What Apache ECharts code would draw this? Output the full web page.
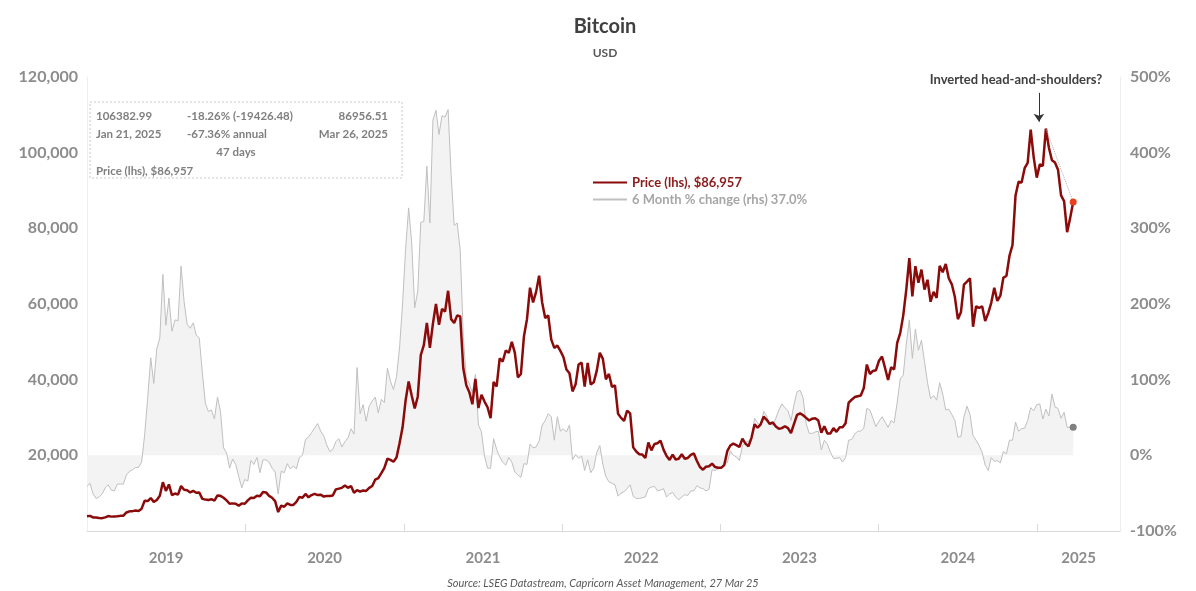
<!DOCTYPE html>
<html><head><meta charset="utf-8">
<script src="https://cdn.jsdelivr.net/npm/echarts@6/dist/echarts.min.js"></script>
<style>html,body{margin:0;padding:0;background:#fff}#c{width:1196px;height:591px}</style>
</head><body><div id="c"></div>
<script>
// Weekly samples (every 7 days from 2019-01-01), USD
const price2019=[3900,4000,3600,3550,3450,3400,3600,3950,3800,3850,3900,4000,4050,4900,5200,5250,5400,5300,5900,8000,7900,8700,7700,8200,9300,12900,10600,12300,9500,9900,9600,11900,10900,10800,10200,10600,10100,10200,8500,8300,8200,8400,8000,9400,9300,8800,8100,7200,7300,7200,6700,7300,7200];
const price2020=[8100,8800,8700,9300,9200,10300,10200,9300,8800,7900,5000,6700,6400,7300,6900,6900,7700,9000,8800,9800,8900,9500,9800,9500,9600,9100,9250,9250,9400,11000,11200,11400,12000,11400,11900,10100,10800,10400,10700,10600,11400,11900,13600,14000,15300,16700,19100,18800,18300,19400,23200,27400];
const price2021=[34500,39500,35800,32400,35500,46500,49100,55000,48400,54800,60000,54500,58700,58000,63500,56000,55000,57000,56700,43000,38500,36700,33500,40200,32500,36000,34200,32700,29800,39400,38200,45600,44800,47700,47100,50000,47100,40600,41500,51500,56000,64300,60400,63200,67500,60400,56300,57000,50600,48400,49000,47600];
const price2022=[46000,42700,41700,36900,38700,44000,44500,38200,44400,38700,39300,42400,47100,45500,40100,41500,38100,38500,31000,29900,29100,31800,31100,22100,21000,20300,20200,19300,23400,21300,23000,23200,23900,21500,19800,18800,20200,18900,19100,20300,19100,19300,20100,20500,18500,16900,16200,17000,17100,17800,16900,16700];
const price2023=[16700,17400,21100,22600,23100,22700,22200,24400,23100,22400,24700,28200,27300,28200,30200,29400,28300,28700,27600,27000,27200,27700,27200,25900,28300,30700,31100,30600,29900,29200,29700,29800,29200,26000,27700,25800,25800,27200,26200,27400,27400,28500,33900,34700,35400,35600,35800,37800,44000,41500,42300,42500];
const price2024=[45000,46100,43100,39900,43300,42700,49700,52300,57000,63800,72100,62000,70000,65600,69100,63800,66400,60600,63200,61600,70100,68400,70600,66800,65200,61900,56000,57800,65100,65900,66800,54000,59400,59000,59400,55500,57600,60300,64300,60800,62200,67000,67400,72700,75600,88700,92300,92100,95900,97300,106100,98700,93400];
const price2025=[96900,96500,106383,101300,98000,97400,95500,88700,87200,79000,82700,86957];

// 6 month % change, same weekly samples
const change2019=[-41,-37,-51,-57,-55,-51,-43,-39,-46,-47,-38,-38,-38,-26,-21,-19,-16,-16,-9,27,76,129,95,141,155,239,172,208,164,179,178,250,203,173,168,175,159,155,110,69,58,60,48,77,58,10,3,-17,-5,-12,-28,-43,-32];
const change2020=[-34,-7,-12,-3,-23,-6,-6,-9,-17,-22,-51,-21,-23,-11,-18,-14,-18,-3,0,21,24,30,36,42,32,26,14,5,8,18,22,11,18,23,35,28,116,55,67,45,65,72,77,56,74,70,115,98,87,104,142,201];
const change2021=[273,327,281,195,217,308,309,382,307,443,456,424,449,447,457,371,304,307,271,157,102,95,83,107,40,31,-1,-17,-17,22,8,-2,-9,-13,-3,-9,-22,-26,-29,-11,-12,15,10,11,19,40,46,55,51,20,51,32];
const change2022=[35,31,40,-6,1,-4,-1,-20,-6,-23,-17,4,13,-12,-28,-35,-37,-39,-54,-50,-48,-44,-39,-54,-57,-57,-56,-55,-44,-42,-41,-47,-46,-44,-55,-51,-49,-55,-59,-55,-52,-53,-47,-47,-40,-43,-44,-47,-45,-19,-20,-18];
const change2023=[-17,-10,-10,6,0,-2,-7,13,17,19,22,49,43,39,58,52,41,40,49,60,68,63,59,46,67,84,86,76,42,29,29,31,32,7,20,15,4,-4,-4,-3,-9,-3,20,21,28,32,32,36,62,60,49,38];
const change2024=[45,51,44,37,46,43,70,101,106,147,179,128,167,139,152,124,96,75,79,73,96,81,60,61,54,46,24,25,51,65,54,26,20,13,4,-13,-20,-3,-8,-7,-10,5,2,20,20,44,32,35,36,46,63,59,67];
const change2025=[68,48,61,52,81,64,62,49,57,37,37,37.0];

const yearLabels=['2019','2020','2021','2022','2023','2024','2025'];
const priceName='Price (lhs), $86,957';
const changeName='6 Month % change (rhs) 37.0%';

const prices=[].concat(price2019,price2020,price2021,price2022,price2023,price2024,price2025);
const changes=[].concat(change2019,change2020,change2021,change2022,change2023,change2024,change2025);
const dates=prices.map((_,i)=>+new Date(2019,0,1+7*i));
const last=prices.length-1;

const FONT='Lato, "Open Sans", "DejaVu Sans", sans-serif';
const xMin=+new Date(2019,0,1), xMax=+new Date(2025,6,11);
const tickVals=yearLabels.slice(1).map(y=>+new Date(+y,0,1));
const labelVals=yearLabels.map(y=>{const s=+new Date(+y,0,1);const e=Math.min(+new Date(+y+1,0,1),xMax);return (s+e)/2;});

const chart=echarts.init(document.getElementById('c'),null,{renderer:'canvas'});
const boxText=(t,x,y,align)=>({type:'text',x:x,y:y,z:11,style:{text:t,fill:'#7f7f7f',font:'bold 11.5px '+FONT,textAlign:align||'left',textVerticalAlign:'middle'}});
chart.setOption({
  animation:false,
  backgroundColor:'#ffffff',
  grid:{left:87,right:76,top:77,bottom:60},
  legend:{orient:'vertical',left:587,top:171,itemWidth:34,itemHeight:10,itemGap:4,
    itemStyle:{opacity:0},
    textStyle:{fontFamily:FONT,fontSize:13,fontWeight:'bold'},
    data:[{name:priceName,textStyle:{color:'#8b1a1a'}},{name:changeName,textStyle:{color:'#a6a6a6'}}]},
  xAxis:{type:'value',min:xMin,max:xMax,scale:true,
    axisLine:{lineStyle:{color:'#d9d9d9',width:1}},
    axisTick:{show:true,inside:true,length:7,customValues:tickVals,lineStyle:{color:'#d9d9d9'}},
    axisLabel:{customValues:labelVals,formatter:v=>String(new Date(v).getFullYear()),color:'#8c8c8c',fontSize:15,fontWeight:'bold',fontFamily:FONT,margin:20,showMinLabel:true,showMaxLabel:true},
    splitLine:{show:false}},
  yAxis:[
    {type:'value',position:'left',min:0,max:120000,interval:20000,
     axisLine:{show:true,lineStyle:{color:'#eeeeee'}},axisTick:{show:false},
     axisLabel:{formatter:v=>v===0?'':v.toLocaleString('en-US'),color:'#8c8c8c',fontSize:16,fontWeight:'bold',fontFamily:FONT,margin:9},
     splitLine:{show:false}},
    {type:'value',position:'right',min:-100,max:500,interval:100,
     axisLine:{show:true,lineStyle:{color:'#eeeeee'}},axisTick:{show:false},
     axisLabel:{formatter:v=>v+'%',color:'#8c8c8c',fontSize:16,fontWeight:'bold',fontFamily:FONT,margin:10},
     splitLine:{show:false}}
  ],
  series:[
    {name:changeName,type:'line',yAxisIndex:1,symbol:'none',z:1,
     data:dates.map((d,i)=>[d,changes[i]]),
     lineStyle:{color:'#c0c0c0',width:1},
     itemStyle:{color:'#c0c0c0'},
     areaStyle:{color:'#f3f3f3',opacity:1},
     markPoint:{silent:true,symbol:'circle',symbolSize:7,label:{show:false},itemStyle:{color:'#7f7f7f'},
       data:[{coord:[dates[last],changes[last]]}]}},
    {name:priceName,type:'line',yAxisIndex:0,symbol:'none',z:3,
     data:dates.map((d,i)=>[d,prices[i]]),
     lineStyle:{color:'#8b0a0a',width:2.5},
     itemStyle:{color:'#8b0a0a'},
     markPoint:{silent:true,symbol:'circle',symbolSize:7,label:{show:false},itemStyle:{color:'#e8401c'},
       data:[{coord:[dates[last],prices[last]]}]},
     markLine:{silent:true,label:{show:false},
       data:[
         [{coord:[+new Date(2025,0,21),106383],symbol:'none',lineStyle:{color:'#b0b0b0',width:1,type:'dotted'}},
          {coord:[dates[last],prices[last]],symbol:'none'}],
         [{coord:[+new Date(2025,0,5),115800],symbol:'none',lineStyle:{color:'#333333',width:1,type:'solid'}},
          {coord:[+new Date(2025,0,5),108200],symbol:'arrow',symbolSize:8}]
       ]}}
  ],
  graphic:[
    {type:'text',x:605,y:27,style:{text:'Bitcoin',fill:'#404040',font:'bold 20px '+FONT,textAlign:'center',textVerticalAlign:'middle'}},
    {type:'text',x:605,y:53,style:{text:'USD',fill:'#595959',font:'bold 12px '+FONT,textAlign:'center',textVerticalAlign:'middle'}},
    {type:'text',x:1016,y:80,z:20,style:{text:'Inverted head-and-shoulders?',fill:'#404040',font:'bold 13px '+FONT,textAlign:'center',textVerticalAlign:'middle'}},
    {type:'text',x:603,y:583,style:{text:'Source: LSEG Datastream, Capricorn Asset Management, 27 Mar 25',fill:'#595959',font:'italic 11px '+FONT,textAlign:'center',textVerticalAlign:'middle'}},
    {type:'rect',z:10,shape:{x:90,y:102,width:312,height:76},style:{fill:'rgba(255,255,255,0.9)',stroke:'#c8c8c8',lineWidth:1,lineDash:[2,2]}},
    boxText('106382.99',96,116),
    boxText('-18.26% (-19426.48)',187,116),
    boxText('86956.51',388,116,'right'),
    boxText('Jan 21, 2025',96,134),
    boxText('-67.36% annual',187,134),
    boxText('Mar 26, 2025',388,134,'right'),
    boxText('47 days',236,152,'center'),
    boxText('Price (lhs), $86,957',96,171)
  ]
});
</script></body></html>
